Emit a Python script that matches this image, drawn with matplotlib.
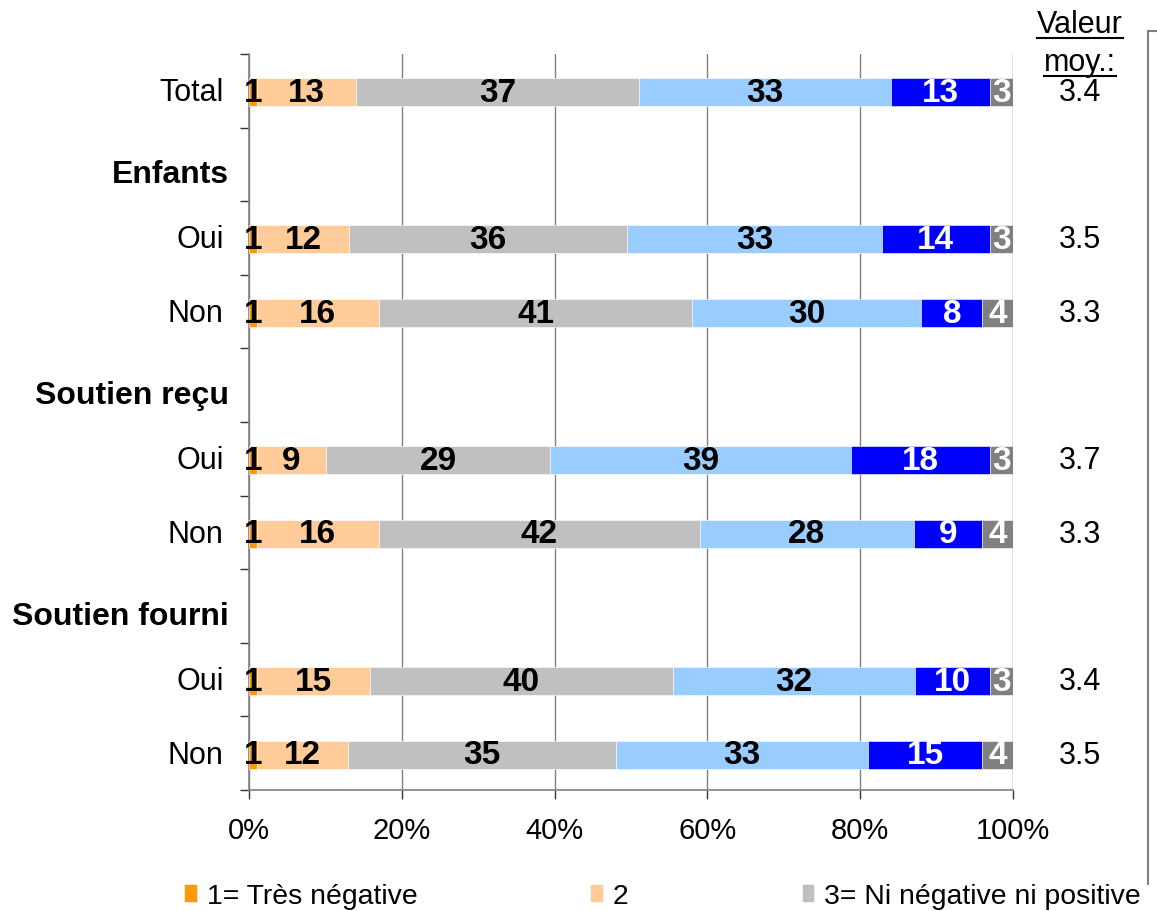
import matplotlib
matplotlib.use("Agg")
import matplotlib.pyplot as plt
from matplotlib.lines import Line2D
import numpy as np

plt.rcParams['font.family'] = ['Liberation Sans', 'DejaVu Sans']

# rows top to bottom; headers have no bar
row_labels = ["Total", "Enfants", "Oui", "Non", "Soutien reçu", "Oui", "Non",
              "Soutien fourni", "Oui", "Non"]
is_header = [False, True, False, False, True, False, False, True, False, False]

series_names = ["1= Très négative", "2", "3= Ni négative ni positive",
                "4", "5= Très positive", "Ne sait pas"]
series_colors = ["#FF9900", "#FFCC99", "#C0C0C0", "#99CCFF", "#0000FF", "#808080"]
label_colors = ["black", "black", "black", "black", "white", "white"]

# values for the bar rows (Total, Enfants Oui/Non, Reçu Oui/Non, Fourni Oui/Non)
v1 = [1, 1, 1, 1, 1, 1, 1]
v2 = [13, 12, 16, 9, 16, 15, 12]
v3 = [37, 36, 41, 29, 42, 40, 35]
v4 = [33, 33, 30, 39, 28, 32, 33]
v5 = [13, 14, 8, 18, 9, 10, 15]
v6 = [3, 3, 4, 3, 4, 3, 4]
means = [3.4, 3.5, 3.3, 3.7, 3.3, 3.4, 3.5]

W, H = 1157, 912
fig = plt.figure(figsize=(W / 100, H / 100), dpi=100)
ax = fig.add_axes([249 / W, 1 - 791 / H, 764 / W, 736 / H])

vals = np.array([v1, v2, v3, v4, v5, v6], dtype=float)
pct = vals / vals.sum(axis=0) * 100  # 100% stacked
ypos = np.array([i for i, h in enumerate(is_header) if not h])

left = np.zeros(len(ypos))
handles = []
for k in range(6):
    b = ax.barh(ypos + 0.02, pct[k], left=left, height=0.38, color=series_colors[k],
                edgecolor="white", linewidth=0.4, label=series_names[k], zorder=3)
    handles.append(b)
    for y, l, w, v in zip(ypos, left, pct[k], vals[k]):
        ax.text(l + w / 2, y + 0.02, f"{int(v)}", ha="center", va="center",
                fontsize=24, fontweight="bold", color=label_colors[k], zorder=4)
    left += pct[k]

ax.set_xlim(0, 100)
ax.set_ylim(len(row_labels) - 0.5, -0.5)
ax.set_xticks(np.arange(0, 101, 20))
ax.set_xticklabels([f"{t}%" for t in range(0, 101, 20)], fontsize=21)
ax.set_yticks(np.arange(-0.5, len(row_labels), 1.0))
ax.set_yticklabels([])
ax.tick_params(axis="both", direction="out", length=6.5, width=1, color="#333333")
ax.tick_params(axis="x", pad=12)
ax.grid(axis="x", color="#808080", linewidth=1, zorder=0)
for s in ["top", "right"]:
    ax.spines[s].set_visible(False)
for s in ["left", "bottom"]:
    ax.spines[s].set_color("#808080")
    ax.spines[s].set_linewidth(1.2)

# category labels
for i, (lab, h) in enumerate(zip(row_labels, is_header)):
    if h:
        ax.text(-0.026, i + 0.13, lab, transform=ax.get_yaxis_transform(),
                ha="right", va="center", fontsize=23, fontweight="bold")
    else:
        ax.text(-0.033, i + 0.02, lab, transform=ax.get_yaxis_transform(),
                ha="right", va="center", fontsize=22)

# mean column
tr = ax.get_yaxis_transform()
for y, m in zip(ypos, means):
    ax.text(1.0877, y + 0.02, f"{m:.1f}", transform=tr, ha="center", va="center",
            fontsize=22, clip_on=False)
t1 = ax.text(1.0877, -0.91, "Valeur", transform=tr, ha="center", va="center",
             fontsize=22, clip_on=False)
t2 = ax.text(1.0877, -0.39, "moy.:", transform=tr, ha="center", va="center",
             fontsize=22, clip_on=False)

# legend (only the first row is visible)
fig.legend(handles[:3], series_names[:3], loc="center left",
           bbox_to_anchor=(170 / W, 1 - 897 / H), ncol=3, frameon=False,
           fontsize=20.4, borderpad=0, handlelength=0.45, handleheight=0.6,
           handletextpad=0.35, columnspacing=6.1)

# frame line on the right
fig.add_artist(Line2D([1148 / W, 1148 / W], [1 - 32 / H, 1 - 885 / H],
                      transform=fig.transFigure, color="#808080", lw=1.5))
fig.add_artist(Line2D([1148 / W, 1.0], [1 - 32 / H, 1 - 32 / H],
                      transform=fig.transFigure, color="#808080", lw=1.5))

# underline header text
fig.canvas.draw()
r = fig.canvas.get_renderer()
for t in (t1, t2):
    bb = t.get_window_extent(r)
    yline = bb.y0 + 1
    fig.add_artist(Line2D([bb.x0 / W, bb.x1 / W], [yline / H, yline / H],
                          transform=fig.transFigure, color="black", lw=1.5))

fig.savefig("out.png", dpi=100)
